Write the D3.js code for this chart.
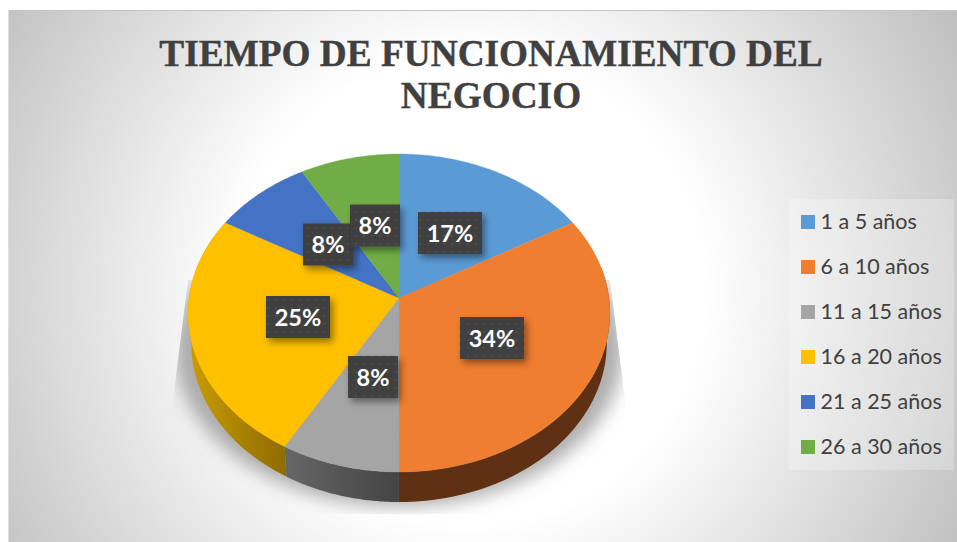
<!DOCTYPE html>
<html><head><meta charset="utf-8">
<script src="https://cdn.jsdelivr.net/npm/d3@7"></script>
<style>html,body{margin:0;padding:0;background:#fff;overflow:hidden}svg{display:block}</style>
</head><body><div id="c"></div>
<script>
const titleLines = ["TIEMPO DE FUNCIONAMIENTO DEL", "NEGOCIO"];
const categories = ["1 a 5 años","6 a 10 años","11 a 15 años","16 a 20 años","21 a 25 años","26 a 30 años"];
const shares = [16.67,33.33,8.33,25,8.33,8.33];
const pctLabels = ["17%","34%","8%","25%","8%","8%"];
const colors = ["#5b9bd5","#ef7e30","#a5a5a5","#ffc000","#4472c4","#70ad47"];
const labelCentres = [[450,233],[492,338],[373,377],[298,317],[328,244.5],[375,225.5]];

const W=957,H=542, cx=399, cy=298, R=210, K=0.0943, A=157.6, DEPTH=30;
const svg=d3.select("#c").append("svg").attr("width",W).attr("height",H);
const defs=svg.append("defs");

const bg=defs.append("radialGradient").attr("id","bg").attr("gradientUnits","userSpaceOnUse")
  .attr("cx",470).attr("cy",290).attr("r",560);
bg.append("stop").attr("offset",0).attr("stop-color","#fff");
bg.append("stop").attr("offset",.42).attr("stop-color","#fff");
bg.append("stop").attr("offset",1).attr("stop-color","#bfbfbf");

const blur=defs.append("filter").attr("id","blur").attr("x","-20%").attr("y","-20%").attr("width","140%").attr("height","140%");
blur.append("feGaussianBlur").attr("stdDeviation",9);
const sh=defs.append("filter").attr("id","lblsh").attr("x","-30%").attr("y","-30%").attr("width","170%").attr("height","170%");
sh.append("feDropShadow").attr("dx",3).attr("dy",4).attr("stdDeviation",3.5).attr("flood-color","#000").attr("flood-opacity",.42);
const pat=defs.append("pattern").attr("id","dots").attr("width",8).attr("height",8).attr("patternUnits","userSpaceOnUse");
pat.append("rect").attr("width",8).attr("height",8).attr("fill","#3f3f3f");
pat.append("rect").attr("x",3).attr("y",3).attr("width",2).attr("height",2).attr("fill","#4e4e4e");
const shadowClip=[[188,280],[173,400],[173,514],[625,514],[625,400],[610,280]];
defs.append("clipPath").attr("id","shclip").append("path").attr("d",d3.line()(shadowClip)+"Z");

const sideStops=[null,[[399,"#5f3014"],[610,"#5f3014"]],[[285,"#666666"],[399,"#444444"]],[[188,"#cc9c00"],[285,"#8f6c00"]]];
sideStops.forEach((s,i)=>{ if(!s) return;
  const g=defs.append("linearGradient").attr("id","side"+i).attr("gradientUnits","userSpaceOnUse")
    .attr("x1",s[0][0]).attr("x2",s[1][0]).attr("y1",0).attr("y2",0);
  g.append("stop").attr("offset",0).attr("stop-color",s[0][1]);
  g.append("stop").attr("offset",1).attr("stop-color",s[1][1]);
});

svg.append("rect").attr("x",9).attr("y",10).attr("width",W-9).attr("height",H-10).attr("fill","url(#bg)");
svg.append("line").attr("x1",9).attr("x2",W).attr("y1",10.5).attr("y2",10.5).attr("stroke","#c4c4c4");
svg.append("line").attr("x1",8.5).attr("x2",8.5).attr("y1",10).attr("y2",H).attr("stroke","#dedede");

const title=svg.append("text").attr("text-anchor","middle").attr("fill","#404040")
  .attr("font-family","Liberation Serif").attr("font-weight","bold").attr("font-size",37.3)
  .attr("stroke","#404040").attr("stroke-width",.4);
titleLines.forEach((t,i)=>title.append("tspan").attr("x",491).attr("y",[66,108][i]).text(t));

// perspective projection of the unit disc
const project=(th,r=1,dy=0,sc=1)=>{
  const u=r*Math.sin(th), v=-r*Math.cos(th), d=1-K*v;
  return [cx+sc*R*u/d, cy+dy+A*v/d];
};
const pie=d3.pie().sort(null).value(d=>d)(shares);
const line=d3.line();
const arcPts=(a0,a1,dy=0,sc=1)=>d3.range(0,61).map(i=>project(a0+(a1-a0)*i/60,1,dy,sc));

// shadow
svg.append("g").attr("clip-path","url(#shclip)").append("g").attr("filter","url(#blur)")
  .append("path").attr("fill","#999").attr("opacity",.8)
  .attr("d",line(arcPts(0,2*Math.PI,DEPTH+5,1.065))+"Z");

// side walls
pie.forEach((p,i)=>{ if(!sideStops[i]) return;
  const a0=Math.max(p.startAngle,Math.PI/2-.2), a1=p.endAngle;
  const top=arcPts(a0,a1), bot=arcPts(a0,a1,DEPTH,.985).reverse();
  svg.append("path").attr("d",line(top.concat(bot))+"Z").attr("fill",`url(#side${i})`);
});
// top faces
pie.forEach((p,i)=>{
  svg.append("path").attr("d",line([[cx,cy]].concat(arcPts(p.startAngle,p.endAngle)))+"Z")
    .attr("fill",colors[i]).attr("stroke",colors[i]).attr("stroke-width",.3);
});
// data labels
pctLabels.forEach((t,i)=>{
  const w=t.length>2?64:50, h=42, [x,y]=labelCentres[i];
  svg.append("rect").attr("x",x-w/2).attr("y",y-h/2).attr("width",w).attr("height",h).attr("fill","url(#dots)").attr("filter","url(#lblsh)");
  svg.append("text").attr("x",x).attr("y",y+8.5).attr("text-anchor","middle").attr("fill","#fff")
    .attr("font-family","Lato").attr("font-weight","bold").attr("font-size",23.5).text(t);
});
// legend
svg.append("rect").attr("x",789).attr("y",199).attr("width",165).attr("height",271).attr("fill","#fff").attr("opacity",.25);
const ly=d3.scalePoint().domain(categories).range([222,447]);
categories.forEach((c,i)=>{
  svg.append("rect").attr("x",801).attr("y",ly(c)-7).attr("width",14).attr("height",14).attr("fill",colors[i]);
  svg.append("text").attr("x",820.5).attr("y",ly(c)+7.3).attr("fill","#404040")
    .attr("font-family","Lato").attr("font-size",21.5).text(c);
});
</script></body></html>
